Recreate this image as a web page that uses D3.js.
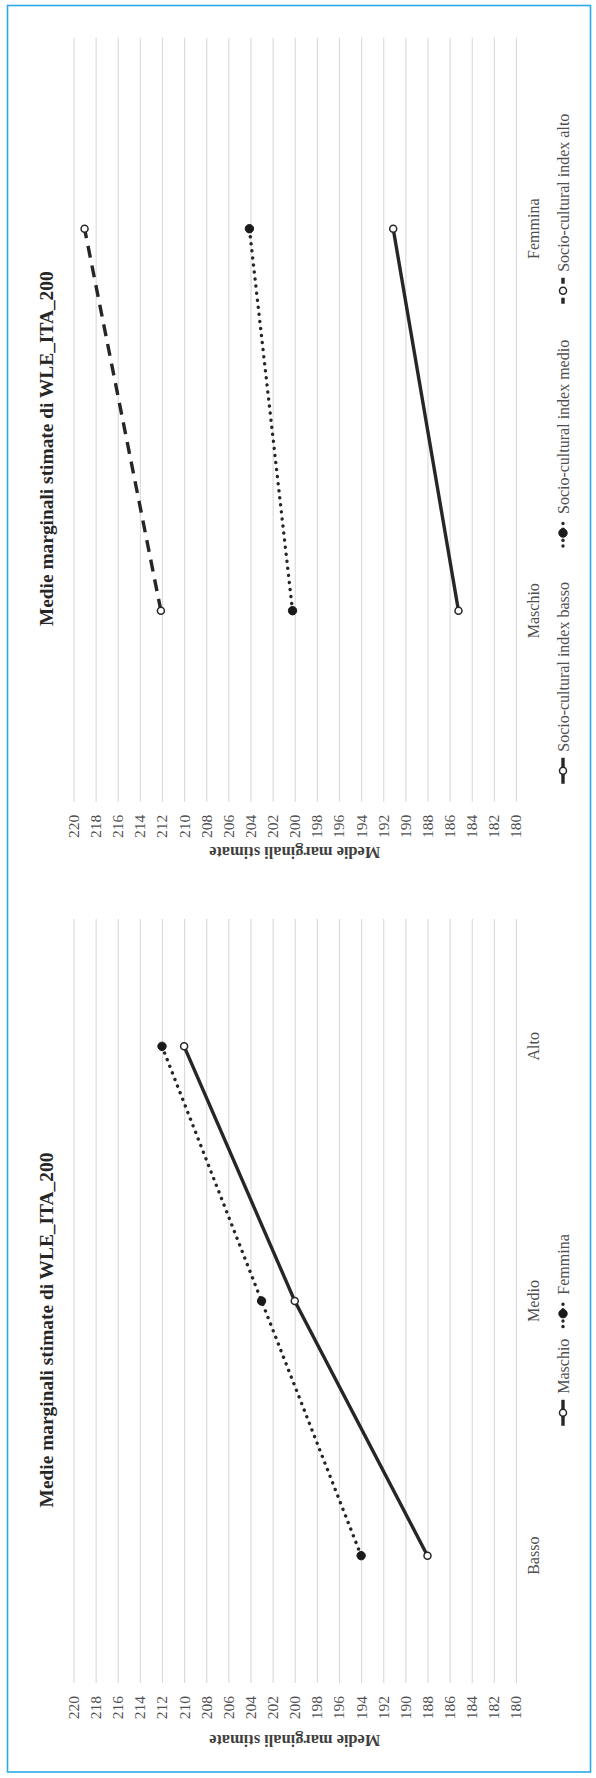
<!DOCTYPE html>
<html>
<head>
<meta charset="utf-8">
<script src="https://cdn.jsdelivr.net/npm/d3@7"></script>
<style>
    body { margin: 0; background: #fff; }
    svg { display: block; }
    text { font-family: "Liberation Serif", "Times New Roman", serif; }
</style>
</head>
<body>
<div id="page"></div>
<script>

// ---- data ----
const valueTicks = d3.range(180, 221, 2);

const sesLevels = ["Basso", "Medio", "Alto"];
const maschioBySes = [188, 200, 210];
const femminaBySes = [194, 203, 212];

const sexes = ["Maschio", "Femmina"];
const sesBassoBySex = [185.2, 191.1];
const sesMedioBySex = [200.2, 204.1];
const sesAltoBySex = [212.1, 219.0];

const chartTitle = "Medie marginali stimate di WLE_ITA_200";
const axisTitle = "Medie marginali stimate";


class RotatedLineChart {

    constructor(svg, categories, series, opts) {
        this.svg = svg;
        this.categories = categories;
        this.series = series;
        this.opts = opts;
        this.initVis();
    }

    initVis() {
        let vis = this;

        vis.plotLen = 764;
        vis.ink = "#262626";
        vis.textCol = "#505050";

        // the whole chart is drawn upright and turned a quarter turn to the left
        vis.g = vis.svg.append("g")
            .attr("transform", "translate(0," + vis.opts.plotBottom + ") rotate(-90)");

        vis.x = d3.scalePoint()
            .domain(vis.categories)
            .range([0, vis.plotLen])
            .padding(0.5);

        vis.y = d3.scaleLinear()
            .domain([180, 220])
            .range([516, 73.5]);

        vis.updateVis();
    }

    updateVis() {
        let vis = this;

        // gridlines + tick labels
        let axis = vis.g.append("g")
            .call(d3.axisLeft(vis.y).tickValues(valueTicks).tickSize(-vis.plotLen).tickPadding(13));
        axis.select(".domain").remove();
        axis.selectAll(".tick line").attr("stroke", "#d9d9d9").attr("stroke-width", 1.1);
        axis.selectAll(".tick text")
            .attr("fill", vis.textCol)
            .attr("font-size", 15.5)
            .attr("font-family", "Liberation Serif, serif");

        // value axis title
        vis.g.append("text")
            .attr("transform", "translate(" + (-vis.opts.axisTitleOffset) + "," + (vis.y(200)) + ") rotate(-90)")
            .attr("text-anchor", "middle")
            .attr("dominant-baseline", "central")
            .attr("font-size", 16.4)
            .attr("font-weight", "bold")
            .attr("fill", "#404040")
            .text(axisTitle);

        // chart title
        vis.g.append("text")
            .attr("x", 353)
            .attr("y", 53)
            .attr("text-anchor", "middle")
            .attr("font-size", 19.4)
            .attr("font-weight", "bold")
            .attr("fill", vis.ink)
            .text(chartTitle);

        // category labels
        vis.g.selectAll(".cat")
            .data(vis.categories)
            .enter().append("text")
            .attr("class", "cat")
            .attr("x", d => vis.x(d))
            .attr("y", 539)
            .attr("text-anchor", "middle")
            .attr("font-size", 16)
            .attr("fill", vis.textCol)
            .text(d => d);

        // lines
        let line = d3.line()
            .x((d, i) => vis.x(vis.categories[i]))
            .y(d => vis.y(d));

        vis.series.forEach(s => {
            vis.g.append("path")
                .attr("d", line(s.values))
                .attr("fill", "none")
                .attr("stroke", vis.ink)
                .attr("stroke-width", 3.4)
                .attr("stroke-linecap", s.dash === "dot" ? "round" : "butt")
                .attr("stroke-dasharray", vis.dashOf(s.dash));

            vis.g.selectAll(null)
                .data(s.values)
                .enter().append("circle")
                .attr("cx", (d, i) => vis.x(vis.categories[i]))
                .attr("cy", d => vis.y(d))
                .call(c => vis.styleMarker(c, s.marker));
        });

        vis.drawLegend();
    }

    dashOf(kind) {
        if (kind === "dot") return "0.1 7";
        if (kind === "dash") return "12 8";
        return null;
    }

    styleMarker(sel, kind) {
        if (kind === "filled") {
            sel.attr("r", 4.2).attr("fill", "#1a1a1a").attr("stroke", "#1a1a1a").attr("stroke-width", 1);
        } else {
            sel.attr("r", 3.5).attr("fill", "#fff").attr("stroke", "#262626").attr("stroke-width", 1.5);
        }
    }

    drawLegend() {
        let vis = this;
        let sampleLen = 26, textGap = 6, entryGap = vis.opts.legendGap;
        let lg = vis.g.append("g");

        let entries = vis.series.map(s => {
            let eg = lg.append("g");
            eg.append("line")
                .attr("x1", 0).attr("x2", sampleLen)
                .attr("y1", 563).attr("y2", 563)
                .attr("stroke", vis.ink)
                .attr("stroke-width", 3.4)
                .attr("stroke-linecap", s.dash === "dot" ? "round" : "butt")
                .attr("stroke-dasharray", s.dash === "dot" ? "0.1 5.5" : (s.dash === "dash" ? "6 4" : null));
            eg.append("circle")
                .attr("cx", sampleLen / 2).attr("cy", 563)
                .call(c => vis.styleMarker(c, s.marker));
            let t = eg.append("text")
                .attr("x", sampleLen + textGap)
                .attr("y", 568.5)
                .attr("font-size", 16)
                .attr("fill", vis.textCol)
                .text(s.name);
            return {g: eg, w: sampleLen + textGap + t.node().getComputedTextLength()};
        });

        let total = d3.sum(entries, e => e.w) + entryGap * (entries.length - 1);
        let pos = 353 - total / 2;
        entries.forEach(e => {
            e.g.attr("transform", "translate(" + pos + ",0)");
            pos += e.w + entryGap;
        });
    }
}


const svg = d3.select("#page").append("svg")
    .attr("width", 596)
    .attr("height", 1778);

// frame
svg.append("rect")
    .attr("x", 7.5).attr("y", 5.5)
    .attr("width", 583).attr("height", 1766.5)
    .attr("fill", "none")
    .attr("stroke", "#2aaae8")
    .attr("stroke-width", 1.6);

// upper chart: sex x socio-cultural index
new RotatedLineChart(svg, sexes, [
    {name: "Socio-cultural index basso", values: sesBassoBySex, dash: "solid", marker: "open"},
    {name: "Socio-cultural index medio", values: sesMedioBySex, dash: "dot", marker: "filled"},
    {name: "Socio-cultural index alto", values: sesAltoBySex, dash: "dash", marker: "open"}
], {plotBottom: 801.7, axisTitleOffset: 51, legendGap: 36});

// lower chart: socio-cultural index x sex
new RotatedLineChart(svg, sesLevels, [
    {name: "Maschio", values: maschioBySes, dash: "solid", marker: "open"},
    {name: "Femmina", values: femminaBySes, dash: "dot", marker: "filled"}
], {plotBottom: 1683, axisTitleOffset: 57, legendGap: 12});

</script>
</body>
</html>
